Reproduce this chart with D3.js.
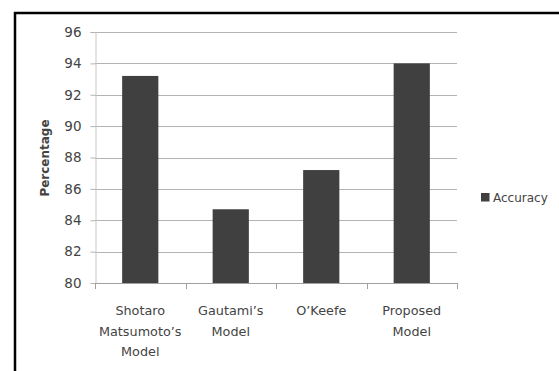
<!DOCTYPE html>
<html>
<head>
<meta charset="utf-8">
<script src="https://cdn.jsdelivr.net/npm/d3@7"></script>
<style>
  html, body { margin: 0; padding: 0; background: #fff; }
  svg { display: block; }
  text { font-family: "DejaVu Sans", "Open Sans", sans-serif; fill: #444; }
</style>
</head>
<body>
<script>
// Accuracy of each model, in percent
const categories = [["Shotaro", "Matsumoto\u2019s", "Model"], ["Gautami\u2019s", "Model"], ["O\u2019Keefe"], ["Proposed", "Model"]];
const accuracy = [93.2, 84.7, 87.2, 94.0];
const yTicks = [80, 82, 84, 86, 88, 90, 92, 94, 96];
const seriesName = "Accuracy";

const W = 559, H = 371;
const FONT = "'DejaVu Sans', 'Open Sans', sans-serif";
const svg = d3.select("body").append("svg").attr("width", W).attr("height", H);

// frame: heavy rule along the top and left edge
svg.append("path")
  .attr("d", `M15,${H} V13 H${W}`)
  .attr("fill", "none").attr("stroke", "#000").attr("stroke-width", 2.5);

const plot = { left: 95, right: 457, top: 32, bottom: 283 };

const x = d3.scaleBand()
  .domain(d3.range(categories.length))
  .range([plot.left, plot.right])
  .paddingInner(0.6).paddingOuter(0.3);

const y = d3.scaleLinear().domain([80, 96]).range([plot.bottom, plot.top]);

// horizontal gridlines
svg.append("g").selectAll("line").data(yTicks.slice(1)).join("line")
  .attr("x1", plot.left).attr("x2", plot.right)
  .attr("y1", d => Math.round(y(d)) + 0.5).attr("y2", d => Math.round(y(d)) + 0.5)
  .attr("stroke", "#b4b4b4").attr("stroke-width", 1);

// y axis
const yAxis = svg.append("g")
  .attr("transform", `translate(${plot.left + 0.5},0)`)
  .call(d3.axisLeft(y).tickValues(yTicks).tickSize(5).tickPadding(9).tickFormat(d3.format("d")));
yAxis.select(".domain").attr("stroke", "#c8c8c8");
yAxis.selectAll(".tick line").attr("stroke", "#b4b4b4");
yAxis.selectAll(".tick text").attr("font-size", 13.5).attr("fill", "#444")
  .style("font-family", FONT);

// bars
svg.append("g").selectAll("rect").data(accuracy).join("rect")
  .attr("x", (d, i) => x(i))
  .attr("width", x.bandwidth())
  .attr("y", d => y(d))
  .attr("height", d => y(80) - y(d))
  .attr("fill", "#404040");

// x axis with category boundaries
const xEdges = d3.range(categories.length + 1).map(i => plot.left + i * (plot.right - plot.left) / categories.length);
const xg = svg.append("g");
xg.append("line")
  .attr("x1", plot.left).attr("x2", plot.right)
  .attr("y1", plot.bottom + 0.5).attr("y2", plot.bottom + 0.5)
  .attr("stroke", "#a0a0a0");
xg.selectAll("line.tk").data(xEdges).join("line").attr("class", "tk")
  .attr("x1", d => Math.round(d) + 0.5).attr("x2", d => Math.round(d) + 0.5)
  .attr("y1", plot.bottom).attr("y2", plot.bottom + 6)
  .attr("stroke", "#a0a0a0");

// category labels
const lab = svg.append("g").selectAll("text").data(categories).join("text")
  .attr("text-anchor", "middle")
  .attr("font-size", 12.8)
  .attr("transform", (d, i) => `translate(${x(i) + x.bandwidth() / 2},315)`);
lab.selectAll("tspan").data(d => d).join("tspan")
  .attr("x", 0).attr("dy", (d, j) => j === 0 ? 0 : 20.7)
  .text(d => d);

// y axis title
svg.append("text")
  .attr("transform", `translate(49,158) rotate(-90)`)
  .attr("text-anchor", "middle")
  .attr("font-size", 12).attr("font-weight", "bold").attr("fill", "#111")
  .text("Percentage");

// legend
const lg = svg.append("g").attr("transform", "translate(481,193)");
lg.append("rect").attr("width", 8.5).attr("height", 8.5).attr("fill", "#404040");
lg.append("text").attr("x", 12).attr("y", 9).attr("font-size", 12).text(seriesName);
</script>
</body>
</html>
